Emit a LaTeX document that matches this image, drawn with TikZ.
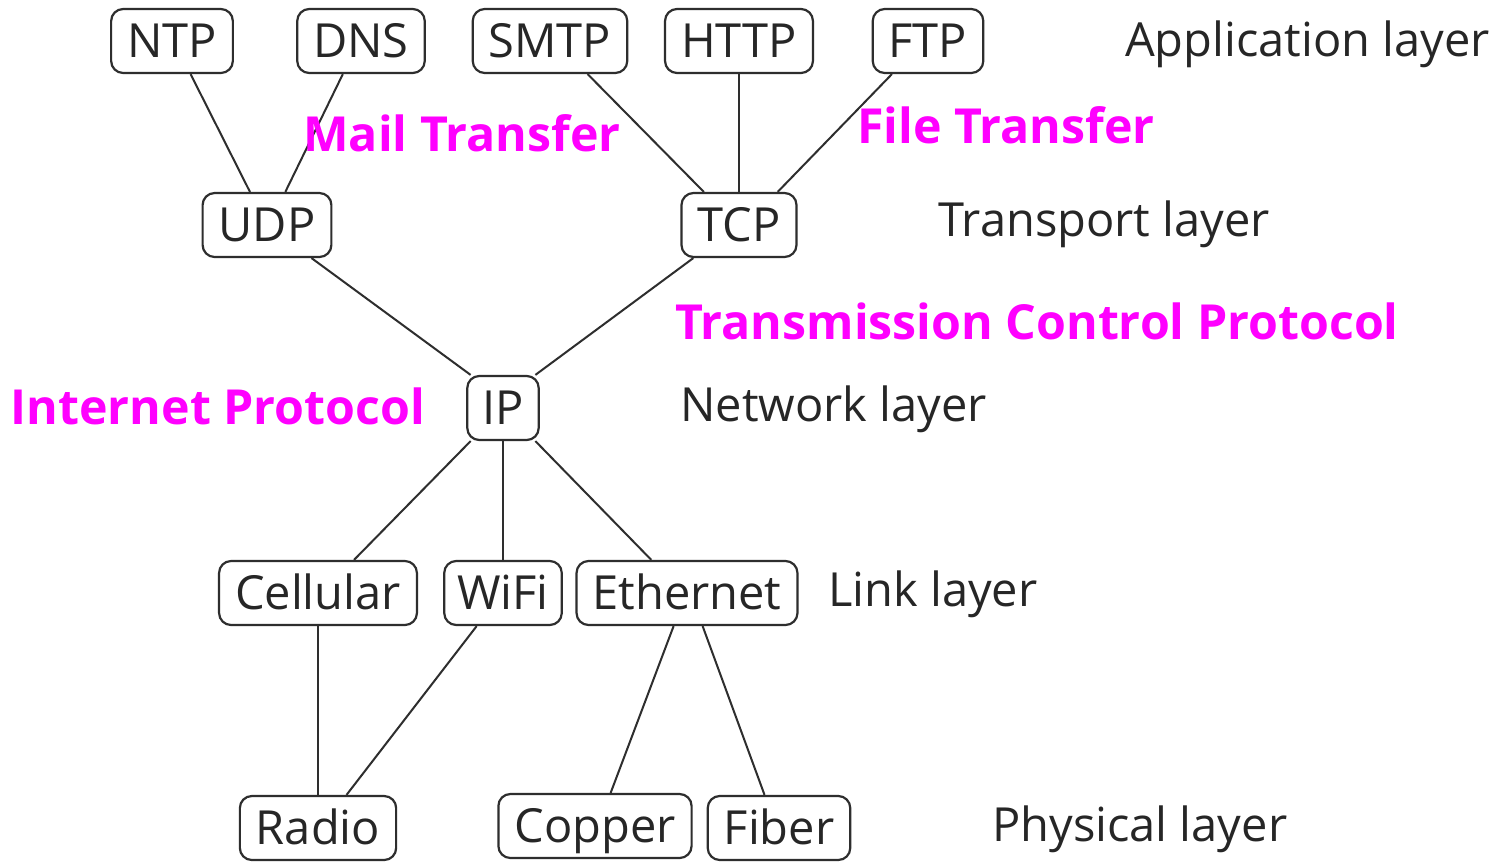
\documentclass[tikz,border=0pt]{standalone}
\usepackage{fontspec}
\setmainfont{Open Sans}
\usetikzlibrary{calc}
\definecolor{edgegray}{HTML}{2E2E2E}
\definecolor{notecol}{HTML}{FF00FF}
\newcommand{\lowpt}[2]{($(#1.south west)!#2!(#1.south east)$)}
\newcommand{\highpt}[2]{($(#1.north west)!#2!(#1.north east)$)}
\begin{document}
\begin{tikzpicture}[x=1pt,y=-1pt,
  proto/.style={draw=edgegray, line width=2.2pt, rounded corners=12pt, fill=white,
    inner xsep=16pt, inner ysep=0pt, minimum height=64pt,
    text height=34pt, text depth=2pt, text=black!85,
    font=\fontsize{47}{50}\selectfont},
  layer/.style={anchor=west, inner sep=0pt, text=black!85,
    font=\fontsize{47}{50}\selectfont},
  note/.style={inner sep=0pt, text=notecol,
    font=\fontsize{48.3}{52}\selectfont\bfseries},
  link/.style={draw=edgegray, line width=2pt}]
\useasboundingbox (0,0) rectangle (1505,865);
\fill[white] (0,0) rectangle (1505,865);

% application layer
\node[proto] (ntp)  at (172,41) {NTP};
\node[proto] (dns)  at (361,41) {DNS};
\node[proto] (smtp) at (550,41) {SMTP};
\node[proto] (http) at (739,41) {HTTP};
\node[proto] (ftp)  at (928,41) {FTP};
% transport layer
\node[proto] (udp) at (267,225) {UDP};
\node[proto] (tcp) at (739,225) {TCP};
% network layer
\node[proto, inner xsep=15pt] (ip) at (503,408) {IP};
% link layer
\node[proto] (cell) at (318,593) {Cellular};
\node[proto, inner xsep=13pt] (wifi) at (503,593) {WiFi};
\node[proto] (eth)  at (687,593) {Ethernet};
% physical layer
\node[proto] (radio)  at (318,828) {Radio};
\node[proto] (copper) at (595,826) {Copper};
\node[proto] (fiber)  at (779,828) {Fiber};

% layer names
\node[layer] (lapp)  at (1125,44)  {Application layer};
\node[layer] (ltrn)  at (938,224)  {Transport layer};
\node[layer] (lnet)  at (680,409)  {Network layer};
\node[layer] (llnk)  at (828,594)  {Link layer};
\node[layer] (lphy)  at (992,829)  {Physical layer};

% connectors
\draw[link] \lowpt{ntp}{0.65}  -- \highpt{udp}{0.37};
\draw[link] \lowpt{dns}{0.36}  -- \highpt{udp}{0.64};
\draw[link] \lowpt{smtp}{0.74} -- \highpt{tcp}{0.2};
\draw[link] \lowpt{http}{0.5}  -- \highpt{tcp}{0.5};
\draw[link] \lowpt{ftp}{0.18}  -- \highpt{tcp}{0.83};
\draw[link] \lowpt{udp}{0.84}  -- \highpt{ip}{0.06};
\draw[link] \lowpt{tcp}{0.11}  -- \highpt{ip}{0.94};
\draw[link] \lowpt{ip}{0.06}   -- \highpt{cell}{0.68};
\draw[link] \lowpt{ip}{0.5}    -- \highpt{wifi}{0.5};
\draw[link] \lowpt{ip}{0.94}   -- \highpt{eth}{0.34};
\draw[link] \lowpt{cell}{0.5}  -- \highpt{radio}{0.5};
\draw[link] \lowpt{wifi}{0.28} -- \highpt{radio}{0.68};
\draw[link] \lowpt{eth}{0.44}  -- \highpt{copper}{0.58};
\draw[link] \lowpt{eth}{0.57}  -- \highpt{fiber}{0.4};

% annotations
\node[note] (nmail) at (462,133) {Mail Transfer};
\node[note] (nfile) at (1006,125) {File Transfer};
\node[note] (ntcp)  at (1037,321) {Transmission Control Protocol};
\node[note] (nip)   at (218,406) {Internet Protocol};
\end{tikzpicture}
\end{document}
